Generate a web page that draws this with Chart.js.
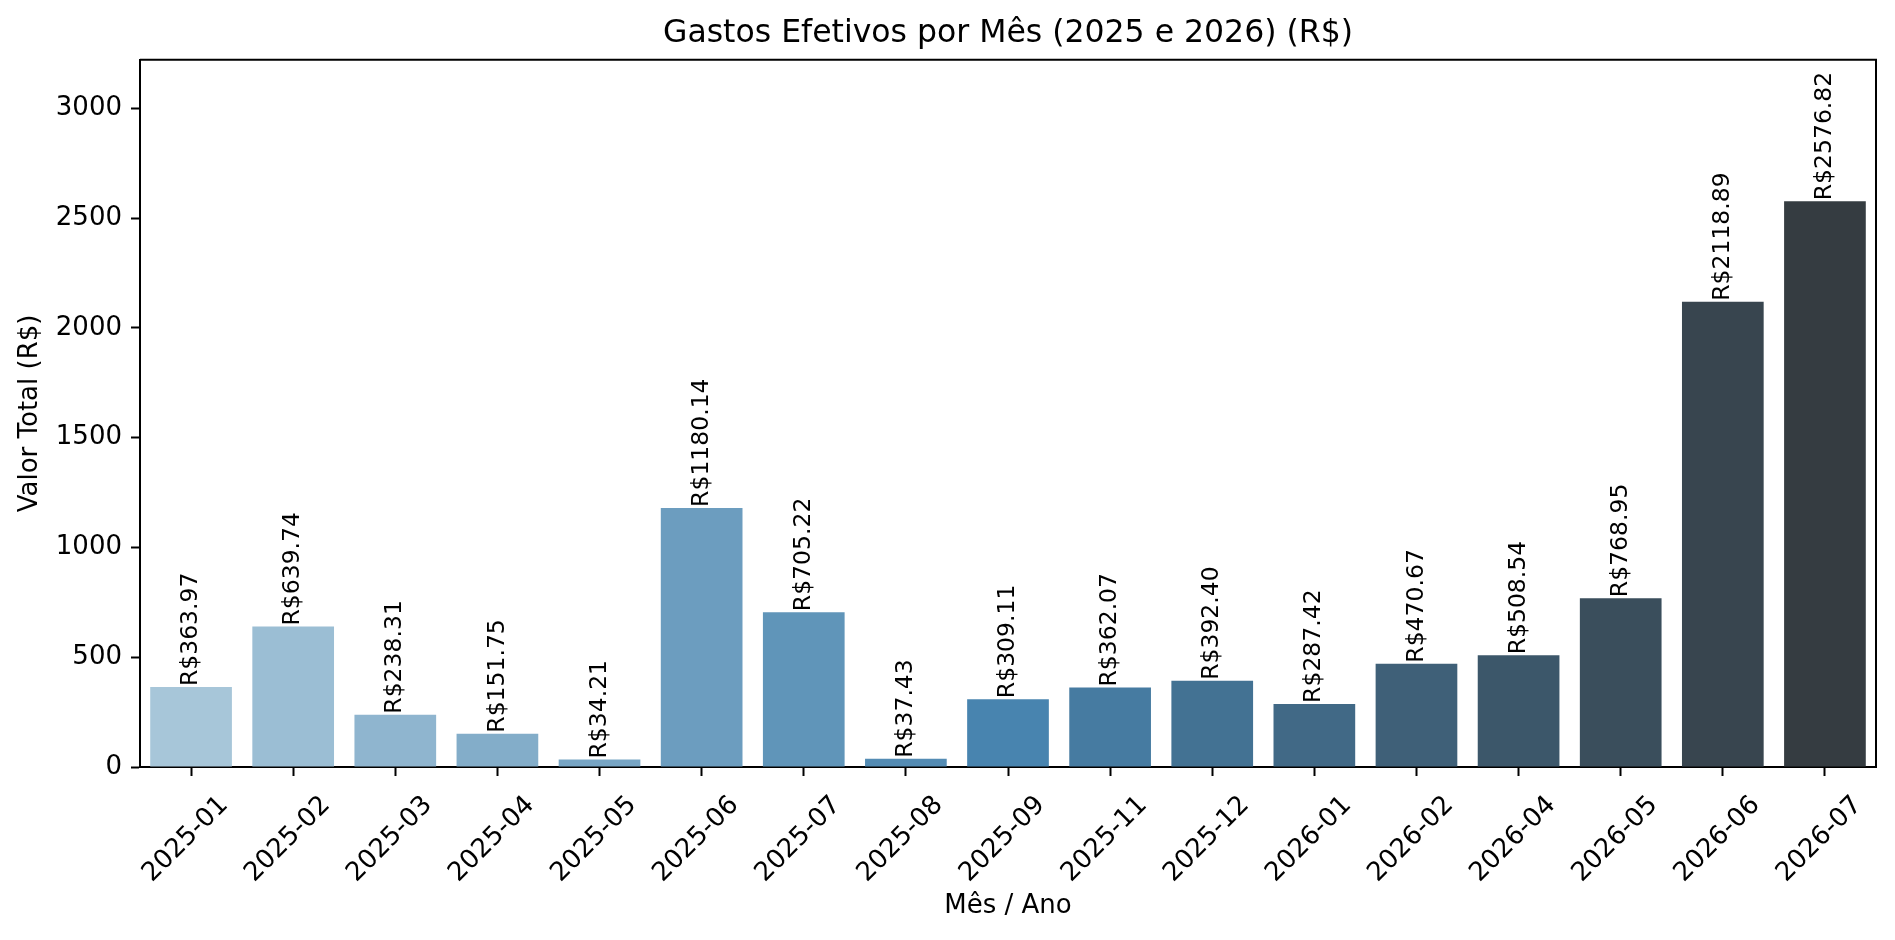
<!DOCTYPE html>
<html>
<head>
<meta charset="utf-8">
<script src="https://cdn.jsdelivr.net/npm/chart.js@4"></script>
<style>
  html, body { margin: 0; padding: 0; background: #fff; }
  #wrap { width: 1895px; height: 940px; }
</style>
</head>
<body>
<div id="wrap"><canvas id="gastos" width="1895" height="940"></canvas></div>
<script>
var meses = ["2025-01", "2025-02", "2025-03", "2025-04", "2025-05", "2025-06", "2025-07", "2025-08", "2025-09",
  "2025-11", "2025-12", "2026-01", "2026-02", "2026-04", "2026-05", "2026-06", "2026-07"];
var valores = [363.97, 639.74, 238.31, 151.75, 34.21, 1180.14, 705.22, 37.43, 309.11,
  362.07, 392.40, 287.42, 470.67, 508.54, 768.95, 2118.89, 2576.82];
var yTicks = [0, 500, 1000, 1500, 2000, 2500, 3000];
var yMax = 3221;

// Blues_d (seaborn, desaturated)
var cores = ["#a7c6d9", "#9bbed4", "#8fb5cf", "#83adc9", "#77a5c4", "#6c9dbf", "#6095b9", "#548cb4", "#4884af",
  "#467ba1", "#437293", "#416986", "#3f6078", "#3c576a", "#3a4e5c", "#38454f", "#353c41"];

var fonte = "'DejaVu Sans', sans-serif";
Chart.defaults.font.family = fonte;
Chart.defaults.color = "#000";

// rotated value labels on top of each bar
var rotulos = {
  id: "rotulos",
  afterDatasetsDraw: function(chart) {
    var ctx = chart.ctx;
    var meta = chart.getDatasetMeta(0);
    ctx.save();
    ctx.font = "23.5px " + fonte;
    ctx.fillStyle = "#000";
    ctx.textAlign = "left";
    ctx.textBaseline = "middle";
    meta.data.forEach(function(bar, i) {
      ctx.save();
      ctx.translate(bar.x, bar.y - 1);
      ctx.rotate(-Math.PI / 2);
      ctx.fillText("R$" + valores[i].toFixed(2), 0, 0);
      ctx.restore();
    });
    ctx.restore();
  }
};

// top and right spines
var moldura = {
  id: "moldura",
  afterDraw: function(chart) {
    var a = chart.chartArea;
    var ctx = chart.ctx;
    ctx.save();
    ctx.strokeStyle = "#000";
    ctx.lineWidth = 2;
    ctx.beginPath();
    ctx.moveTo(a.left, a.top);
    ctx.lineTo(a.right, a.top);
    ctx.lineTo(a.right, a.bottom);
    ctx.stroke();
    ctx.restore();
  }
};

var gastosChart = new Chart(document.getElementById("gastos"), {
  type: "bar",
  data: {
    labels: meses,
    datasets: [{
      label: "Gastos",
      data: valores,
      backgroundColor: cores,
      borderWidth: 0,
      barPercentage: 0.8,
      categoryPercentage: 1.0
    }]
  },
  options: {
    responsive: false,
    devicePixelRatio: 1,
    animation: false,
    layout: { padding: { left: 0, right: 19, top: 0, bottom: 0 } },
    plugins: {
      legend: { display: false },
      tooltip: { enabled: false },
      title: {
        display: true,
        text: "Gastos Efetivos por Mês (2025 e 2026) (R$)",
        fullSize: false,
        color: "#000",
        font: { size: 31.5, weight: "normal" },
        padding: { top: 15, bottom: 7 }
      }
    },
    scales: {
      x: {
        grid: { offset: false, drawOnChartArea: false, drawTicks: true, tickLength: 9, tickWidth: 2, tickColor: "#000" },
        border: { display: true, color: "#000", width: 2 },
        ticks: { autoSkip: false, minRotation: 45, maxRotation: 45, labelOffset: 33, padding: 14, color: "#000", font: { size: 26 } },
        title: { display: true, text: "Mês / Ano", color: "#000", font: { size: 26 }, padding: { top: 0, bottom: 18 } },
        afterFit: function(s) { s.height = 173; }
      },
      y: {
        min: 0,
        max: yMax,
        grid: { drawOnChartArea: false, drawTicks: true, tickLength: 9, tickWidth: 2, tickColor: "#000" },
        border: { display: true, color: "#000", width: 2 },
        ticks: { padding: 9, color: "#000", font: { size: 26 }, callback: function(v) { return String(v); } },
        title: { display: true, text: "Valor Total (R$)", color: "#000", font: { size: 26 }, padding: { top: 15, bottom: 0 } },
        afterBuildTicks: function(s) { s.ticks = yTicks.map(function(v) { return { value: v }; }); },
        afterFit: function(s) { s.width = 140; }
      }
    }
  },
  plugins: [rotulos, moldura]
});
</script>
</body>
</html>
